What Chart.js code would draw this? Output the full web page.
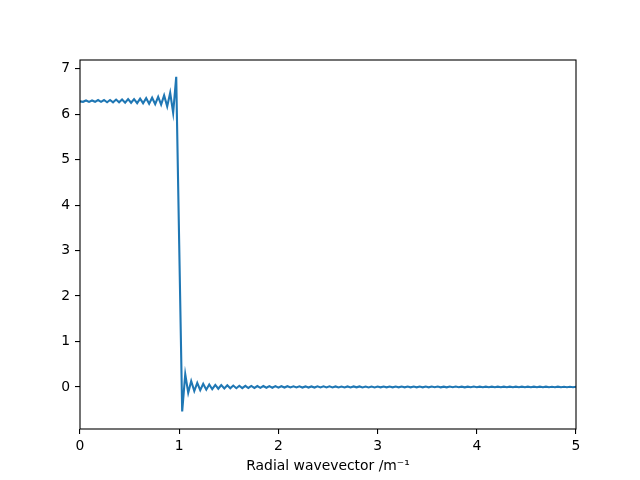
<!DOCTYPE html>
<html>
<head>
<meta charset="utf-8">
<script src="https://cdn.jsdelivr.net/npm/chart.js@4"></script>
<style>
  html, body { margin: 0; padding: 0; background: #fff; }
  #box { width: 640px; height: 480px; }
</style>
</head>
<body>
<div id="box"><canvas id="chart" width="640" height="480"></canvas></div>
<script>
// sample grid (radial wavevector, 1/m)
const wavevector = [
    0, 0.030, 0.061, 0.091, 0.121, 0.152, 0.182, 0.212, 0.242, 0.273, 0.303,
    0.333, 0.364, 0.394, 0.424, 0.455, 0.485, 0.515, 0.545, 0.576, 0.606, 0.636,
    0.667, 0.697, 0.727, 0.758, 0.788, 0.818, 0.848, 0.879, 0.909, 0.939, 0.970,
    1.000, 1.030, 1.061, 1.091, 1.121, 1.152, 1.182, 1.212, 1.242, 1.273, 1.303,
    1.333, 1.364, 1.394, 1.424, 1.455, 1.485, 1.515, 1.545, 1.576, 1.606, 1.636,
    1.667, 1.697, 1.727, 1.758, 1.788, 1.818, 1.848, 1.879, 1.909, 1.939, 1.970,
    2.000, 2.030, 2.061, 2.091, 2.121, 2.152, 2.182, 2.212, 2.242, 2.273, 2.303,
    2.333, 2.364, 2.394, 2.424, 2.455, 2.485, 2.515, 2.545, 2.576, 2.606, 2.636,
    2.667, 2.697, 2.727, 2.758, 2.788, 2.818, 2.848, 2.879, 2.909, 2.939, 2.970,
    3.000, 3.030, 3.061, 3.091, 3.121, 3.152, 3.182, 3.212, 3.242, 3.273, 3.303,
    3.333, 3.364, 3.394, 3.424, 3.455, 3.485, 3.515, 3.545, 3.576, 3.606, 3.636,
    3.667, 3.697, 3.727, 3.758, 3.788, 3.818, 3.848, 3.879, 3.909, 3.939, 3.970,
    4.000, 4.030, 4.061, 4.091, 4.121, 4.152, 4.182, 4.212, 4.242, 4.273, 4.303,
    4.333, 4.364, 4.394, 4.424, 4.455, 4.485, 4.515, 4.545, 4.576, 4.606, 4.636,
    4.667, 4.697, 4.727, 4.758, 4.788, 4.818, 4.848, 4.879, 4.909, 4.939, 4.970,
    5.000
];

// transform values
const amplitude = [
    6.28, 6.27, 6.30, 6.27, 6.30, 6.27, 6.31, 6.27, 6.31, 6.26, 6.31,
    6.26, 6.32, 6.26, 6.32, 6.25, 6.33, 6.25, 6.33, 6.24, 6.34, 6.24,
    6.35, 6.23, 6.36, 6.22, 6.38, 6.21, 6.41, 6.17, 6.47, 6.03, 6.82,
    3.14, -0.54, 0.28, -0.13, 0.13, -0.09, 0.09, -0.07, 0.07, -0.06, 0.055,
    -0.05, 0.045, -0.04, 0.04, -0.035, 0.035, -0.03, 0.03, -0.028, 0.026, -0.025,
    0.024, -0.023, 0.022, -0.021, 0.02, -0.02, 0.019, -0.018, 0.018, -0.017, 0.017,
    -0.016, 0.015, -0.013, 0.016, -0.012, 0.015, -0.011, 0.014, -0.013, 0.012, -0.014,
    0.011, -0.013, 0.013, -0.011, 0.014, -0.010, 0.013, -0.011, 0.011, -0.012, 0.010,
    -0.012, 0.011, -0.010, 0.012, -0.009, 0.011, -0.010, 0.009, -0.011, 0.009, -0.010,
    0.010, -0.009, 0.010, -0.008, 0.009, -0.009, 0.008, -0.009, 0.009, -0.008, 0.010,
    -0.008, 0.009, -0.009, 0.008, -0.009, 0.008, -0.008, 0.009, -0.007, 0.008, -0.008,
    0.007, -0.008, 0.008, -0.007, 0.008, -0.007, 0.007, -0.008, 0.007, -0.007, 0.008,
    -0.007, 0.007, -0.006, 0.007, -0.007, 0.006, -0.007, 0.007, -0.006, 0.007, -0.006,
    0.006, -0.007, 0.006, -0.006, 0.007, -0.006, 0.006, -0.006, 0.006, -0.006, 0.006,
    -0.005, 0.006, -0.006, 0.005, -0.006, 0.006, -0.005, 0.005, -0.006, 0.005, -0.005,
    0.005
];

const xTicks = [0, 1, 2, 3, 4, 5];
const yTicks = [0, 1, 2, 3, 4, 5, 6, 7];

const points = wavevector.map((k, i) => ({ x: k, y: amplitude[i] }));

// matplotlib style frame round the plot area
const frameBox = {
    id: "frameBox",
    afterDraw(chart) {
        const { ctx, chartArea: a } = chart;
        ctx.save();
        ctx.strokeStyle = "#000";
        ctx.lineWidth = 1.1;
        ctx.strokeRect(a.left, a.top, a.right - a.left, a.bottom - a.top);
        ctx.restore();
    }
};

const tickFont = { family: "DejaVu Sans", size: 13.9 };

new Chart(document.getElementById("chart").getContext("2d"), {
    type: "line",
    data: {
        datasets: [{
            data: points,
            borderColor: "#1f77b4",
            borderWidth: 2.1,
            pointRadius: 0,
            tension: 0,
            fill: false
        }]
    },
    options: {
        responsive: false,
        devicePixelRatio: 1,
        animation: false,
        layout: { padding: { top: 60, right: 64, left: 0, bottom: 0 } },
        plugins: {
            legend: { display: false },
            tooltip: { enabled: false }
        },
        scales: {
            x: {
                type: "linear",
                min: 0,
                max: 5,
                afterFit(scale) { scale.height = 51; },
                afterBuildTicks(scale) { scale.ticks = xTicks.map(v => ({ value: v })); },
                grid: { drawOnChartArea: false, drawTicks: true, tickLength: 5, color: "#000", lineWidth: 1.1 },
                border: { display: false },
                ticks: { color: "#000", font: tickFont, padding: 4, maxRotation: 0 },
                title: {
                    display: true,
                    text: "Radial wavevector /m\u207B\u00B9",
                    color: "#000",
                    font: tickFont,
                    padding: { top: 2, bottom: 5 }
                }
            },
            y: {
                type: "linear",
                min: -0.925,
                max: 7.19,
                afterFit(scale) { scale.width = 80; },
                afterBuildTicks(scale) { scale.ticks = yTicks.map(v => ({ value: v })); },
                grid: { drawOnChartArea: false, drawTicks: true, tickLength: 5, color: "#000", lineWidth: 1.1 },
                border: { display: false },
                ticks: { color: "#000", font: tickFont, padding: 5 }
            }
        }
    },
    plugins: [frameBox]
});
</script>
</body>
</html>
